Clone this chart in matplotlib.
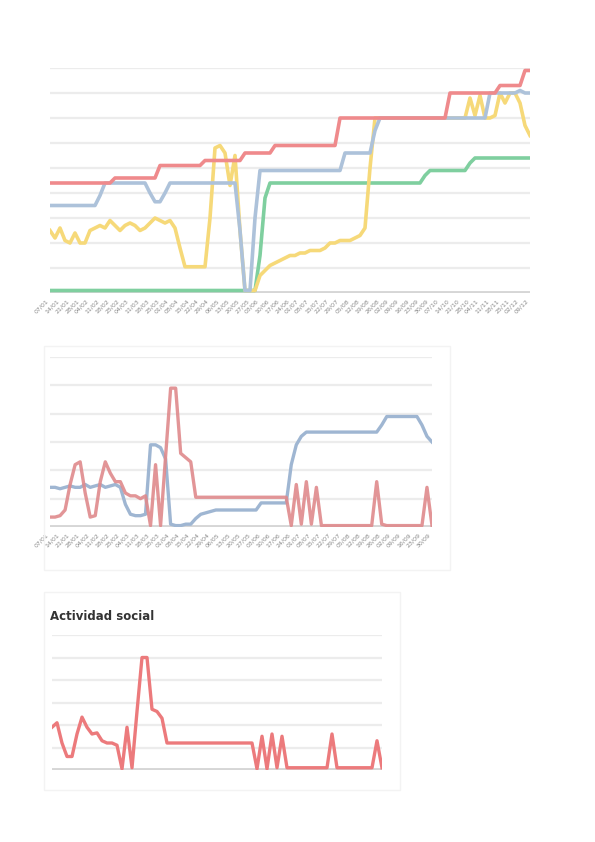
import matplotlib
matplotlib.use("Agg")
import matplotlib.pyplot as plt
from matplotlib.patches import Rectangle

W, H = 595, 842

# ---------------- data ----------------
red_1 = [4.4, 4.4, 4.4, 4.4, 4.4, 4.4, 4.4, 4.4, 4.4, 4.4, 4.4, 4.4, 4.4,
         4.6, 4.6, 4.6, 4.6, 4.6, 4.6, 4.6, 4.6, 4.6,
         5.1, 5.1, 5.1, 5.1, 5.1, 5.1, 5.1, 5.1, 5.1,
         5.3, 5.3, 5.3, 5.3, 5.3, 5.3, 5.3, 5.3,
         5.6, 5.6, 5.6, 5.6, 5.6, 5.6,
         5.9, 5.9, 5.9, 5.9, 5.9, 5.9, 5.9, 5.9, 5.9, 5.9, 5.9, 5.9, 5.9,
         7.0, 7.0, 7.0, 7.0, 7.0, 7.0, 7.0, 7.0, 7.0, 7.0, 7.0, 7.0, 7.0, 7.0, 7.0, 7.0,
         7.0, 7.0, 7.0, 7.0, 7.0, 7.0,
         8.0, 8.0, 8.0, 8.0, 8.0, 8.0, 8.0, 8.0, 8.0, 8.0,
         8.3, 8.3, 8.3, 8.3, 8.3,
         8.9, 8.9]
blue_1 = [3.5, 3.5, 3.5, 3.5, 3.5, 3.5, 3.5, 3.5, 3.5, 3.5,
          3.9,
          4.4, 4.4, 4.4, 4.4, 4.4, 4.4, 4.4, 4.4, 4.4,
          4.0, 3.65, 3.65, 4.0,
          4.4, 4.4, 4.4, 4.4, 4.4, 4.4, 4.4, 4.4, 4.4, 4.4, 4.4, 4.4, 4.4, 4.4,
          2.5, 0.1, 0.1, 3.0,
          4.9, 4.9, 4.9, 4.9, 4.9, 4.9, 4.9, 4.9, 4.9, 4.9, 4.9, 4.9, 4.9, 4.9, 4.9, 4.9, 4.9,
          5.6, 5.6, 5.6, 5.6, 5.6, 5.6,
          6.5,
          7.0, 7.0, 7.0, 7.0, 7.0, 7.0, 7.0, 7.0, 7.0, 7.0, 7.0, 7.0, 7.0, 7.0, 7.0, 7.0,
          7.0, 7.0, 7.0, 7.0, 7.0, 7.0,
          8.0, 8.0, 8.0, 8.0, 8.0,
          8.0, 8.1, 8.0, 8.0]
yellow_1 = [2.5, 2.2, 2.6, 2.1, 2.0, 2.4, 2.0,
            2.0, 2.5,
            2.6, 2.7, 2.6, 2.9, 2.7, 2.5, 2.7, 2.8, 2.7, 2.5, 2.6, 2.8, 3.0, 2.9, 2.8, 2.9, 2.6,
            1.8,
            1.05, 1.05, 1.05, 1.05, 1.05,
            3.0,
            5.8, 5.9, 5.6, 4.3, 5.5,
            2.5,
            0.1, 0.1, 0.1,
            0.7,
            0.9, 1.1, 1.2,
            1.3, 1.4, 1.5, 1.5, 1.6, 1.6, 1.7, 1.7, 1.7, 1.8,
            2.0, 2.0, 2.1, 2.1, 2.1, 2.2, 2.3, 2.6,
            5.0,
            7.0, 7.0, 7.0, 7.0, 7.0, 7.0, 7.0, 7.0, 7.0, 7.0, 7.0, 7.0, 7.0, 7.0, 7.0, 7.0,
            7.0, 7.0, 7.0,
            7.8, 7.1, 7.9,
            7.0, 7.0, 7.1,
            8.0, 7.6, 8.0, 8.0,
            7.6, 6.7, 6.3]
green_1 = [0.1, 0.1, 0.1, 0.1, 0.1, 0.1, 0.1, 0.1, 0.1, 0.1, 0.1, 0.1, 0.1, 0.1,
           0.1, 0.1, 0.1, 0.1, 0.1, 0.1, 0.1, 0.1, 0.1, 0.1, 0.1, 0.1, 0.1, 0.1,
           0.1, 0.1, 0.1, 0.1, 0.1, 0.1, 0.1, 0.1, 0.1, 0.1, 0.1, 0.1, 0.1, 0.1,
           1.5, 3.8,
           4.4, 4.4, 4.4, 4.4, 4.4, 4.4, 4.4, 4.4, 4.4, 4.4, 4.4, 4.4, 4.4, 4.4, 4.4, 4.4,
           4.4, 4.4, 4.4, 4.4, 4.4, 4.4, 4.4, 4.4, 4.4, 4.4, 4.4, 4.4, 4.4, 4.4, 4.4,
           4.7,
           4.9, 4.9, 4.9, 4.9, 4.9, 4.9, 4.9, 4.9,
           5.2,
           5.4, 5.4, 5.4, 5.4, 5.4, 5.4, 5.4, 5.4, 5.4, 5.4, 5.4, 5.4]

red_2 = [0.35, 0.35, 0.4, 0.6, 1.5, 2.2, 2.3, 1.2, 0.35, 0.4, 1.6, 2.3, 1.9, 1.6,
         1.6, 1.2, 1.1, 1.1, 1.0, 1.1, 0.05, 2.2, 0.05, 2.5, 4.9, 4.9, 2.6, 2.45, 2.3,
         1.05, 1.05, 1.05, 1.05, 1.05, 1.05, 1.05, 1.05, 1.05, 1.05, 1.05, 1.05, 1.05,
         1.05, 1.05, 1.05, 1.05, 1.05, 1.05,
         0.05, 1.5, 0.1, 1.6, 0.1, 1.4, 0.05, 0.05,
         0.05, 0.05, 0.05, 0.05, 0.05, 0.05, 0.05, 0.05, 0.05,
         1.6, 0.1,
         0.05, 0.05, 0.05, 0.05, 0.05, 0.05, 0.05, 0.05,
         1.4, 0.05]
blue_2 = [1.4, 1.4, 1.35, 1.4, 1.45, 1.4, 1.4, 1.5, 1.4, 1.45, 1.5, 1.4, 1.45, 1.5,
          1.4, 0.8, 0.45, 0.4, 0.4, 0.45, 2.9, 2.9, 2.8, 2.4,
          0.1, 0.05, 0.05, 0.1, 0.1, 0.3, 0.45, 0.5, 0.55,
          0.6, 0.6, 0.6, 0.6, 0.6, 0.6, 0.6, 0.6, 0.6,
          0.85, 0.85, 0.85, 0.85, 0.85, 0.85,
          2.2, 2.9, 3.2,
          3.35, 3.35, 3.35, 3.35, 3.35, 3.35, 3.35, 3.35, 3.35, 3.35, 3.35, 3.35, 3.35,
          3.35, 3.35,
          3.6, 3.9, 3.9, 3.9, 3.9, 3.9, 3.9, 3.9, 3.6, 3.2, 3.0]

red_3 = [1.9, 2.1, 1.2, 0.6, 0.6, 1.6, 2.35, 1.9, 1.6, 1.65, 1.3, 1.2, 1.2,
         1.1, 0.05, 1.9, 0.1, 2.6, 5.0, 5.0, 2.7, 2.6, 2.3, 1.2,
         1.2, 1.2, 1.2, 1.2, 1.2, 1.2, 1.2, 1.2, 1.2, 1.2, 1.2, 1.2, 1.2, 1.2, 1.2, 1.2, 1.2,
         0.05, 1.5, 0.05, 1.6, 0.1, 1.5, 0.1,
         0.1, 0.1, 0.1, 0.1, 0.1, 0.1, 0.1, 0.1,
         1.6, 0.1,
         0.1, 0.1, 0.1, 0.1, 0.1, 0.1, 0.1,
         1.3, 0.1]

tick_labels = ["07/01", "14/01", "21/01", "28/01", "04/02", "11/02", "18/02", "25/02",
               "04/03", "11/03", "18/03", "25/03", "01/04", "08/04", "15/04", "22/04",
               "29/04", "06/05", "13/05", "20/05", "27/05", "03/06", "10/06", "17/06",
               "24/06", "01/07", "08/07", "15/07", "22/07", "29/07", "05/08", "12/08",
               "19/08", "26/08", "02/09", "09/09", "16/09", "23/09", "30/09", "07/10",
               "14/10", "21/10", "28/10", "04/11", "11/11", "18/11", "25/11", "02/12",
               "09/12"]

title_3 = "Actividad social"

# ---------------- styling ----------------
RED = "#ef8a8c"
BLUE = "#adc2da"
YELLOW = "#f6d979"
GREEN = "#7fcf9f"
RED2 = "#df8a8c"
BLUE2 = "#9fb6d2"
RED3 = "#ec7a7c"
GRID = "#ececec"

fig = plt.figure(figsize=(W / 100, H / 100), dpi=100)
fig.patch.set_facecolor("white")


def px_axes(x0, y_top, x1, y_bot):
    return fig.add_axes([x0 / W, 1 - y_bot / H, (x1 - x0) / W, (y_bot - y_top) / H])


def style(ax, ymax):
    ax.set_ylim(0, ymax)
    for s in ax.spines.values():
        s.set_visible(False)
    ax.set_yticks(range(1, ymax + 1))
    ax.set_yticklabels([])
    ax.tick_params(axis="y", length=0)
    ax.grid(axis="y", color=GRID, lw=1.6)
    ax.set_axisbelow(True)
    ax.axhline(0, color="#d6d6d6", lw=3.5, zorder=1)


def card(x0, y0, x1, y1):
    fig.patches.append(Rectangle((x0 / W, 1 - y1 / H), (x1 - x0) / W, (y1 - y0) / H,
                                 transform=fig.transFigure, facecolor="none",
                                 edgecolor="#f3f3f3", lw=1.0, zorder=0))


# ---------------- chart 1 ----------------
ax1 = px_axes(50, 68, 530, 293)
style(ax1, 9)
x1 = list(range(len(red_1)))
ax1.plot(x1, green_1, color=GREEN, lw=2.6, zorder=3)
ax1.plot(x1, yellow_1, color=YELLOW, lw=2.6, zorder=4)
ax1.plot(x1, blue_1, color=BLUE, lw=2.6, zorder=5)
ax1.plot(x1, red_1, color=RED, lw=2.6, zorder=6)
ax1.set_xlim(0, len(red_1) - 1)
pos1 = list(range(0, len(red_1), 2))
ax1.set_xticks(pos1)
ax1.set_xticklabels(tick_labels[:len(pos1)], rotation=45, ha="right",
                    fontsize=4.5, color="#8a8a8a")
ax1.tick_params(axis="x", length=0, pad=4)

# ---------------- chart 2 ----------------
card(44, 346, 450, 570)
ax2 = px_axes(50, 357, 432, 527)
style(ax2, 6)
x2 = list(range(len(red_2)))
ax2.plot(x2, blue_2, color=BLUE2, lw=2.4, zorder=4)
ax2.plot(x2, red_2, color=RED2, lw=2.4, zorder=5, alpha=0.9)
ax2.set_xlim(0, len(red_2) - 1)
pos2 = list(range(0, len(red_2), 2))
ax2.set_xticks(pos2)
ax2.set_xticklabels(tick_labels[:len(pos2)], rotation=45, ha="right",
                    fontsize=4.5, color="#8a8a8a")
ax2.tick_params(axis="x", length=0, pad=4)

# ---------------- chart 3 ----------------
card(44, 592, 400, 790)
ax3 = px_axes(52, 635, 382, 770)
style(ax3, 6)
x3 = list(range(len(red_3)))
ax3.plot(x3, red_3, color=RED3, lw=2.4, zorder=5)
ax3.set_xlim(0, len(red_3) - 1)
ax3.set_xticks([])
fig.text(50 / W, 1 - 617 / H, title_3, fontsize=8.5, fontweight="bold",
         color="#333333", va="center", ha="left")

fig.savefig("out.png", dpi=100, facecolor="white")
